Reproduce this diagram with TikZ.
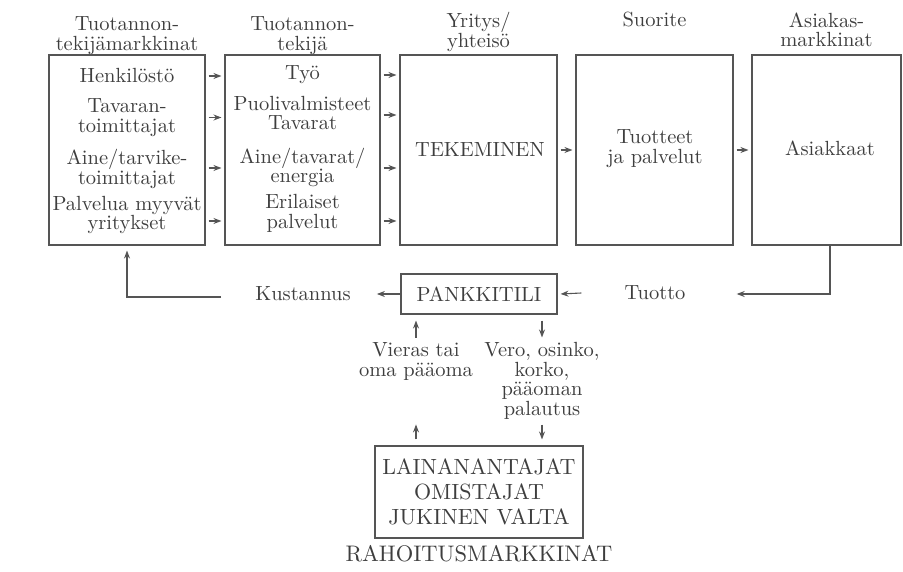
\documentclass[tikz,border=0pt]{standalone}
\usepackage{fontspec}
\setmainfont{lmroman10-regular}[Extension=.otf]
\usetikzlibrary{arrows.meta,calc}
\definecolor{ink}{HTML}{3E3E3E}
\definecolor{rule}{HTML}{555555}
\begin{document}
\begin{tikzpicture}[x=1pt,y=-1pt,
  every node/.style={text=ink, align=center, inner sep=0pt, font=\fontsize{20.5}{19.5}\selectfont},
  bigbox/.style={draw=rule, line width=1.1pt, minimum height=190pt},
  smallbox/.style={draw=rule, line width=1.1pt},
  arr/.style={draw=rule, line width=1.1pt, -{Stealth[length=8pt,width=6pt]}},
  capsfont/.style={font=\fontsize{22}{25}\selectfont},
  titlefont/.style={font=\fontsize{22.5}{25}\selectfont}]
\useasboundingbox (0,0) rectangle (903,572);

% headers
\node (h1) at (127,35.5) {Tuotannon-\\tekijämarkkinat};
\node (h2) at (302.5,35.5) {Tuotannon-\\tekijä};
\node (h3) at (478.5,32) {Yritys/\\yhteisö};
\node (h4) at (654.5,20) {Suorite};
\node (h5) at (826.5,30) {Asiakas-\\markkinat};

% main boxes
\node[bigbox, minimum width=156pt] (b1) at (127,150) {};
\node[bigbox, minimum width=155pt] (b2) at (302.5,150) {};
\node[bigbox, minimum width=157pt] (b3) at (478.5,150) {};
\node[bigbox, minimum width=157pt] (b4) at (654.5,150) {};
\node[bigbox, minimum width=149pt] (b5) at (826.5,150) {};

% box 1 items
\node (p1) at (127,76) {Henkilöstö};
\node (p2) at (127,117.5) {Tavaran-\\toimittajat};
\node (p3) at (127,169) {Aine/tarvike-\\toimittajat};
\node (p4) at (127,215) {Palvelua myyvät\\yritykset};

% box 2 items
\node (q1) at (302.5,75) {Työ};
\node (q2) at (302.5,113) {Puolivalmisteet\\Tavarat};
\node (q3) at (302.5,167.5) {Aine/tavarat/\\energia};
\node (q4) at (302.5,213.5) {Erilaiset\\palvelut};

% box 3-5 contents
\node (tek) at (480,150) {TEKEMINEN};
\node (tuot) at (655,148.5) {Tuotteet\\ja palvelut};
\node (asi) at (830,148) {Asiakkaat};

% arrows box1 -> box2
\draw[arr] ($(b1.east |- p1)+(3,0)$) -- ($(b2.west |- p1)+(-3,0)$);
\draw[arr] ($(b1.east |- p2)+(3,0)$) -- ($(b2.west |- p2)+(-3,0)$);
\draw[arr] ($(b1.east |- p3)+(3,-1)$) -- ($(b2.west |- p3)+(-3,-1)$);
\draw[arr] ($(b1.east |- p4)+(3,6)$) -- ($(b2.west |- p4)+(-3,6)$);
% arrows box2 -> box3
\draw[arr] ($(b2.east |- q1)+(3,0)$) -- ($(b3.west |- q1)+(-3,0)$);
\draw[arr] ($(b2.east |- q2)+(3,2)$) -- ($(b3.west |- q2)+(-3,2)$);
\draw[arr] ($(b2.east |- q3)+(3,0.5)$) -- ($(b3.west |- q3)+(-3,0.5)$);
\draw[arr] ($(b2.east |- q4)+(3,7.5)$) -- ($(b3.west |- q4)+(-3,7.5)$);
% arrows box3 -> box4 -> box5
\draw[arr] ($(b3.east)+(3,0)$) -- ($(b4.west)+(-3,0)$);
\draw[arr] ($(b4.east)+(3,0)$) -- ($(b5.west)+(-3,0)$);

% bank row
\node[smallbox, minimum width=156pt, minimum height=40pt] (pank) at (479,294) {PANKKITILI};
\node (kust) at (303,294) {Kustannus};
\node (tuotto) at (655,293) {Tuotto};
\coordinate (fbstart) at (221,297);
\coordinate (rvert) at (830,0);

\draw[arr] (pank.west) -- ($(kust.east)+(26,0)$);
\draw[arr] ($(tuotto.west)+(-43,0)$) -- ($(pank.east)+(3,0)$);
\draw[arr] (fbstart) -| ($(b1.south)+(0,5)$);
\draw[arr] (rvert |- b5.south) |- ($(tuotto.east)+(51,1)$);

% financing texts
\node (vieras) at (416,361.5) {Vieras tai\\oma pääoma};
\node (vero) at (542,381) {Vero, osinko,\\korko,\\pääoman\\palautus};

\draw[arr] (vieras.north |- 0,338) -- ($(vieras.north |- pank.south)+(0,6)$);
\draw[arr] ($(vero.north |- pank.south)+(0,6)$) -- ($(vero.north)+(0,-5)$);

% lenders
\node[smallbox, capsfont, minimum width=208pt, minimum height=92pt] (lend) at (479,492) {LAINANANTAJAT\\OMISTAJAT\\JUKINEN VALTA};
\node[titlefont] (rahoitus) at (479,554) {RAHOITUSMARKKINAT};

\draw[arr] ($(vieras.south |- lend.north)+(0,-6)$) -- ($(vieras.south |- lend.north)+(0,-21)$);
\draw[arr] ($(vero.south)+(0,5)$) -- ($(vero.south |- lend.north)+(0,-6)$);
\end{tikzpicture}
\end{document}
